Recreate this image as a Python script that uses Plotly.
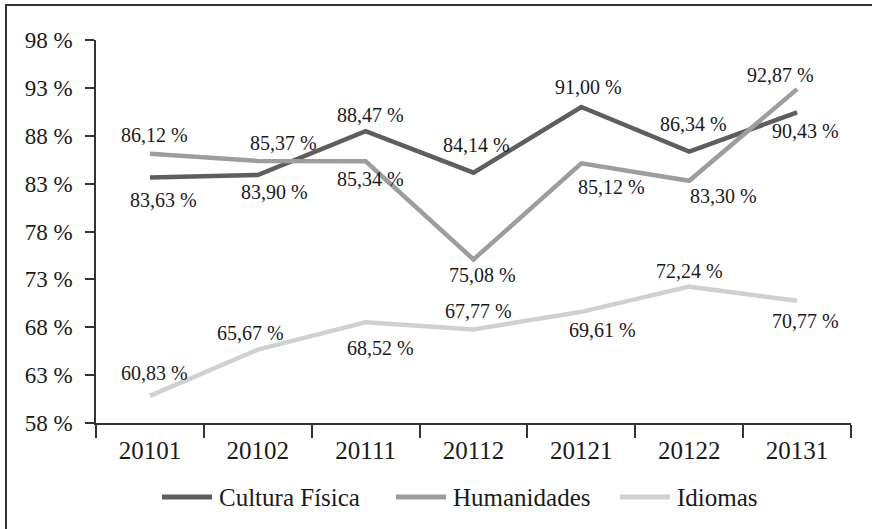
import plotly.graph_objects as go

# ---- data ----
periods = ["20101", "20102", "20111", "20112", "20121", "20122", "20131"]
series_names = ["Cultura Física", "Humanidades", "Idiomas"]
cultura_fisica = [83.63, 83.90, 88.47, 84.14, 91.00, 86.34, 90.43]
humanidades = [86.12, 85.37, 85.34, 75.08, 85.12, 83.30, 92.87]
idiomas = [60.83, 65.67, 68.52, 67.77, 69.61, 72.24, 70.77]
y_ticks = [58, 63, 68, 73, 78, 83, 88, 93, 98]

# ---- styles ----
colors = ["#5e5e5e", "#9d9d9d", "#d0d0d0"]
FONT = "Liberation Serif"
# label offsets in pixels (dx right, dy down)
label_offsets = [
    [(14, 22), (17, 17), (5, -16), (3, -28), (7, -20), (4, -28), (8, 19)],
    [(5, -19), (26, -18), (5, 18), (9, 16), (30, 24), (34, 15), (-17, -14)],
    [(5, -23), (-7, -17), (15, 26), (5, -18), (21, 18), (0, -16), (8, 20)],
]

W, H = 872, 529
ML, MR, MT, MB = 96, 21, 40, 106
PW, PH = W - ML - MR, H - MT - MB


def px(x):
    return (x - ML) / PW


def py(y):
    return (H - MB - y) / PH


def fmt(v):
    return f"{v:.2f}".replace(".", ",") + " %"


fig = go.Figure()
all_series = [cultura_fisica, humanidades, idiomas]
annotations = []
for name, vals, col, offs in zip(series_names, all_series, colors, label_offsets):
    fig.add_trace(go.Scatter(
        x=periods, y=vals, mode="lines", name=name,
        line=dict(color=col, width=4.5), showlegend=False, hoverinfo="skip",
    ))
    for i, (v, (dx, dy)) in enumerate(zip(vals, offs)):
        annotations.append(dict(
            x=i, y=v, xref="x", yref="y", text=fmt(v), showarrow=False,
            xshift=dx, yshift=-dy, xanchor="center", yanchor="middle",
            font=dict(family=FONT, size=20, color="#1a1a1a"),
        ))

# custom legend
legend_line_x = [(162, 212), (396, 446), (620, 670)]
legend_y = 497
shapes = []
for name, col, (x0, x1) in zip(series_names, colors, legend_line_x):
    shapes.append(dict(type="line", xref="paper", yref="paper",
                       x0=px(x0), x1=px(x1), y0=py(legend_y), y1=py(legend_y),
                       line=dict(color=col, width=5)))
    annotations.append(dict(x=px(x1 + 5), y=py(legend_y), xref="paper", yref="paper",
                            text=name, showarrow=False, xanchor="left", yanchor="middle",
                            font=dict(family=FONT, size=25, color="#1a1a1a")))

# frame (top & left edges visible)
shapes.append(dict(type="rect", xref="paper", yref="paper",
                   x0=px(6), x1=px(W + 20), y0=py(H + 20), y1=py(5),
                   line=dict(color="#333333", width=2), layer="above"))

fig.update_layout(
    width=W, height=H,
    margin=dict(l=ML, r=MR, t=MT, b=MB, pad=0),
    paper_bgcolor="white", plot_bgcolor="white",
    font=dict(family=FONT, size=23, color="#1a1a1a"),
    showlegend=False,
    annotations=annotations,
    shapes=shapes,
)
fig.update_xaxes(
    type="category", categoryorder="array", categoryarray=periods,
    range=[-0.5, len(periods) - 0.5],
    showline=True, linecolor="#333333", linewidth=1.5,
    ticks="outside", tickson="boundaries", ticklen=13, tickwidth=1.5, tickcolor="#333333",
    ticklabelstandoff=4,
    showgrid=False, zeroline=False,
    tickfont=dict(family=FONT, size=25, color="#1a1a1a"),
)
fig.update_yaxes(
    range=[58, 98], tickvals=y_ticks, ticktext=[f"{t} %" for t in y_ticks],
    showline=True, linecolor="#333333", linewidth=1.5,
    ticks="outside", ticklen=9, tickwidth=1.5, tickcolor="#333333",
    ticklabelstandoff=8,
    showgrid=False, zeroline=False,
    tickfont=dict(family=FONT, size=23, color="#1a1a1a"),
)

fig.write_html("out.html", post_script="document.body.style.margin='0';",
               config={"displayModeBar": False})
